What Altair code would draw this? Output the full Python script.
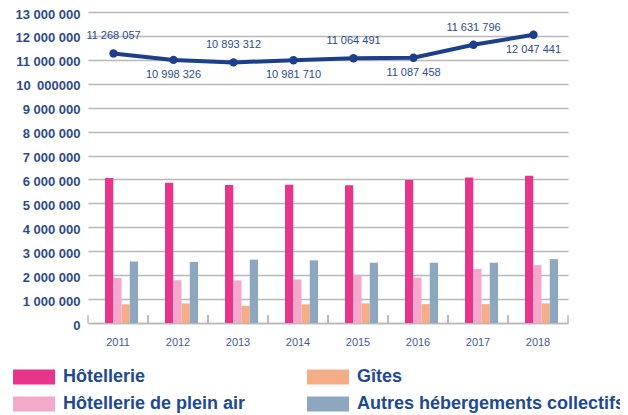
import altair as alt
import pandas as pd

years = [2011, 2012, 2013, 2014, 2015, 2016, 2017, 2018]
hotellerie = [6060000, 5860000, 5770000, 5780000, 5760000, 5980000, 6080000, 6150000]
plein_air = [1880000, 1790000, 1780000, 1820000, 2020000, 1900000, 2260000, 2420000]
gites = [780000, 820000, 720000, 780000, 820000, 790000, 790000, 820000]
autres = [2570000, 2550000, 2650000, 2620000, 2520000, 2520000, 2520000, 2670000]
total = [11268057, 10998326, 10893312, 10981710, 11064491, 11087458, 11631796, 12047441]

cats = ["Hôtellerie", "Hôtellerie de plein air", "Gîtes", "Autres hébergements collectifs"]
cat_colors = {"Hôtellerie": "#e8358b", "Hôtellerie de plein air": "#f4a9cc",
              "Gîtes": "#f5ad88", "Autres hébergements collectifs": "#8ca7bf"}
legend_order = cats

rows = []
for i, yv in enumerate(years):
    for c, vals in zip(cats, [hotellerie, plein_air, gites, autres]):
        rows.append({"year": str(yv), "cat": c, "value": vals[i]})
bars_df = pd.DataFrame(rows)
line_df = pd.DataFrame({"year": [str(v) for v in years], "yr": years, "total": total})

NAVY = "#1c3f8c"
LAB = "#2c4b8c"
GRID = "#b8b8b8"
FONT = "Liberation Sans"

x_enc = alt.X("year:N", title=None,
              scale=alt.Scale(paddingInner=0, paddingOuter=0),
              axis=alt.Axis(labelAngle=0, labelFont=FONT, labelFontSize=11, labelColor="#4a5a98",
                            labelPadding=13, ticks=False, domainColor=GRID, domainWidth=1.5,
                            grid=False))
y_scale = alt.Scale(domain=[0, 13000000], nice=False)
y_axis = alt.Axis(values=list(range(0, 13000001, 1000000)), grid=True, gridColor=GRID, gridWidth=1.5,
                  domain=False, ticks=False, labelFont=FONT, labelFontSize=13, labelFontWeight="bold",
                  labelColor=LAB, labelPadding=8, labelOverlap=False, labelBound=False,
                  labelOffset=2,
                  labelExpr="datum.value == 10000000 ? '10\u2002000000' : replace(format(datum.value, ','), regexp(',', 'g'), ' ')")

bars = alt.Chart(bars_df).mark_bar().encode(
    x=x_enc,
    xOffset=alt.XOffset("cat:N", sort=cats,
                        scale=alt.Scale(paddingInner=0, paddingOuter=0, range=[17, 50])),
    y=alt.Y("value:Q", title=None, scale=y_scale, axis=y_axis),
    color=alt.Color("cat:N", scale=alt.Scale(domain=legend_order,
                                              range=[cat_colors[c] for c in legend_order]),
                    legend=alt.Legend(title=None, orient="none", legendX=-63, legendY=356,
                                      columns=2, columnPadding=61, rowPadding=9,
                                      symbolType="M-2.8,-1L2.8,-1L2.8,1L-2.8,1Z",
                                      symbolSize=225, symbolStrokeWidth=0, symbolOpacity=1,
                                      labelFont=FONT, labelFontSize=18, labelFontWeight="bold",
                                      labelColor="#1d4a92", labelOffset=20, labelLimit=0)),
)

ticks_l = alt.Chart(line_df).mark_rule(color=GRID, strokeWidth=1.5).encode(
    x=alt.X("year:N", bandPosition=0), y=alt.value(303), y2=alt.value(311))
ticks_r = alt.Chart(line_df).mark_rule(color=GRID, strokeWidth=1.5).encode(
    x=alt.X("year:N", bandPosition=1), y=alt.value(303), y2=alt.value(311))

base = alt.Chart(line_df).transform_calculate(
    label="replace(format(datum.total, ','), regexp(',', 'g'), ' ')")
y_line = alt.Y("total:Q", title=None, scale=y_scale, axis=y_axis)
XOFF = alt.value(25.5)

line = base.mark_line(color=NAVY, strokeWidth=4).encode(x="year:N", y=y_line, xOffset=XOFF)
pts = base.mark_circle(color=NAVY, size=70, opacity=1).encode(x="year:N", y=y_line, xOffset=XOFF)
txt_up = base.transform_filter("datum.yr % 2 == 1").mark_text(
    dy=-17, font=FONT, fontSize=11, color=LAB).encode(
    x="year:N", y=y_line, text="label:N", xOffset=XOFF)
txt_dn = base.transform_filter("datum.yr % 2 == 0").mark_text(
    dy=15, font=FONT, fontSize=11, color=LAB).encode(
    x="year:N", y=y_line, text="label:N", xOffset=XOFF)

chart = alt.layer(bars, ticks_l, ticks_r, line, pts, txt_up, txt_dn).properties(
    width=480, height=311,
    autosize=alt.AutoSizeParams(type="none"),
    padding={"left": 80, "top": 4, "right": 52, "bottom": 92},
).configure_view(stroke=None)

chart.save("out.html", embed_options={"renderer": "svg", "actions": False})
